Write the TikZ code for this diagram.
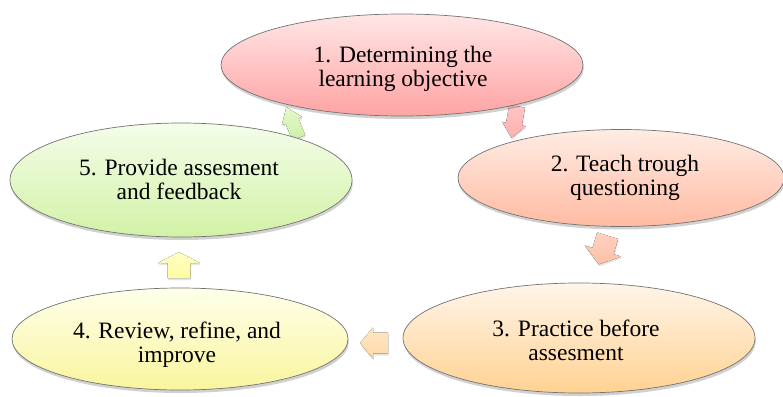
\documentclass[tikz,border=0pt]{standalone}
\usepackage{fontspec}
\setmainfont{Liberation Serif}
\usetikzlibrary{shapes.geometric,shadows}
\definecolor{eAt}{HTML}{FFE6E6}\definecolor{eAb}{HTML}{FFA3A3}
\definecolor{eBt}{HTML}{FFECE4}\definecolor{eBb}{HTML}{FFBBA3}
\definecolor{eCt}{HTML}{FFF5EA}\definecolor{eCb}{HTML}{FFD291}
\definecolor{eDt}{HTML}{FFFFEA}\definecolor{eDb}{HTML}{F9F59E}
\definecolor{eEt}{HTML}{F4FDEA}\definecolor{eEb}{HTML}{D2F2A6}
\definecolor{aAt}{HTML}{E4F8CC}\definecolor{aAb}{HTML}{CDEEA6}
\definecolor{aBt}{HTML}{FFC6C6}\definecolor{aBb}{HTML}{FFAFAF}
\definecolor{aCt}{HTML}{FFD2C0}\definecolor{aCb}{HTML}{FFBFA8}
\definecolor{aDt}{HTML}{FFE6C4}\definecolor{aDb}{HTML}{FFD9A8}
\definecolor{aEt}{HTML}{FFFFC4}\definecolor{aEb}{HTML}{FFFBA2}
\newcommand\mystrut{\rule[-6pt]{0pt}{23pt}}
\newcommand\blockarr[8]{%
  \begin{scope}[shift={(#1,#2)},rotate=#3]
    \fill[arrshadow,#8] (-#7,-#6) -- (0,-#6) -- (0,-#5) -- (#4,0) -- (0,#5) -- (0,#6) -- (-#7,#6) -- cycle;
  \end{scope}}
\begin{document}
\begin{tikzpicture}[x=1pt,y=-1pt,
  ell/.style={ellipse, draw=black!55, line width=0.7pt, inner sep=0pt,
    drop shadow={shadow xshift=0.8pt, shadow yshift=-3pt, opacity=0.18, fill=black}},
  txt/.style={align=center, inner sep=0pt, font=\fontsize{23.5}{24}\selectfont},
  arrshadow/.style={drop shadow={shadow xshift=0.5pt, shadow yshift=-2pt, opacity=0.1, fill=black}}]
\useasboundingbox (0,0) rectangle (783,396);
\fill[white] (0,0) rectangle (783,396);
% block arrows
\blockarr{292}{121}{112}{15}{11}{7}{18}{top color=aAt, bottom color=aAb}
\blockarr{514}{124}{-100}{14}{12}{8}{18}{top color=aBt, bottom color=aBb}
\blockarr{603}{251}{-107}{14}{19}{11}{16}{top color=aCt, bottom color=aCb}
\blockarr{373}{343}{180}{13}{15.5}{10.5}{15}{top color=aDt, bottom color=aDb}
\blockarr{179}{263}{90}{11}{21}{11.5}{15}{top color=aEt, bottom color=aEb}
% ellipses
\node[ell, minimum width=362pt, minimum height=102pt, top color=eAt, bottom color=eAb] (e1) at (402,65) {};
\node[ell, minimum width=326pt, minimum height=97pt, top color=eBt, bottom color=eBb] (e2) at (621,178) {};
\node[ell, minimum width=352pt, minimum height=110pt, top color=eCt, bottom color=eCb] (e3) at (579,338) {};
\node[ell, minimum width=336pt, minimum height=102pt, top color=eDt, bottom color=eDb] (e4) at (180,339) {};
\node[ell, minimum width=342pt, minimum height=114pt, top color=eEt, bottom color=eEb] (e5) at (181,180) {};
% texts
\node[txt] (t1) at (403,68.5) {\mystrut 1. Determining the\\\mystrut learning objective};
\node[txt] (t2) at (625,177.5) {\mystrut 2. Teach trough\\\mystrut questioning};
\node[txt] (t3) at (576,343) {\mystrut 3. Practice before\\\mystrut assesment};
\node[txt] (t4) at (177,344.5) {\mystrut 4. Review, refine, and\\\mystrut improve};
\node[txt] (t5) at (179,181.5) {\mystrut 5. Provide assesment\\\mystrut and feedback};
\end{tikzpicture}
\end{document}
